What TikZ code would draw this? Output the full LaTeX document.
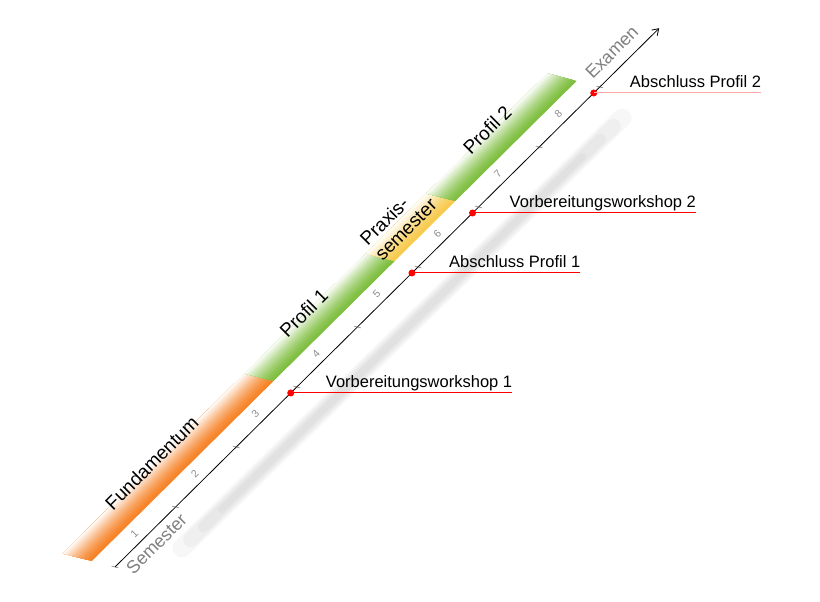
\documentclass[tikz,border=0pt]{standalone}
\usepackage{fontspec}
\setmainfont{Liberation Sans}
\usetikzlibrary{arrows.meta,positioning}
\usepackage{xcolor}
\definecolor{fundorange}{RGB}{246,130,38}
\definecolor{profilgreen}{RGB}{126,190,62}
\definecolor{praxisyellow}{RGB}{247,202,76}

\begin{document}
\begin{tikzpicture}[x=1pt,y=1pt,
  bandtext/.style={font=\fontsize{19}{21}\selectfont,rotate=45,align=left,inner sep=1pt},
  semnum/.style={font=\fontsize{10.5}{11}\selectfont,text=black!45,rotate=45,inner sep=0pt},
  axislabel/.style={font=\fontsize{18}{20}\selectfont,text=black!50,rotate=45,inner sep=0pt},
  axisline/.style={draw=black,line width=0.8pt,-{Straight Barb[length=6pt,width=8pt]}},
  semtick/.style={draw=black!55,line width=0.5pt},
  milestone/.style={circle,fill=red,inner sep=0pt,minimum size=7pt},
  msname/.style={font=\fontsize{16.5}{18}\selectfont,inner sep=0pt,anchor=base west},
  msline/.style={draw=red,line width=1pt}
]
  \useasboundingbox (0,0) rectangle (820,602);

  %% ---- soft shadow beside the time line ----
  \coordinate (shadowa) at (182,54);
  \coordinate (shadowb) at (622,484);
  \foreach \w/\o in {19/0,15/12,11/30,7/55}
    \draw[line cap=round,line width=\w pt,black,opacity=.03,
          shorten <=\o pt,shorten >=\o pt] (shadowa) -- (shadowb);

  %% ---- time line, one semester = one unit along x ----
  \begin{scope}[shift={(115,35)},x={(60.6pt,60pt)},y={(-29pt,7.5pt)}]
    % phases: fade from full colour (next to the line) to white
    \foreach \from/\to/\col in {0/3/fundorange,3/5/profilgreen,
                                5/6/praxisyellow,6/8/profilgreen}
      \foreach \i in {0,...,24}{
        \pgfmathsetmacro\bandt{0.8+0.04*\i}
        \pgfmathtruncatemacro\bandp{100-100*(\i/25)^1.4}
        \fill[\col!\bandp!white] (\from,\bandt) -- (\to,\bandt) -- (\to,1.8) -- (\from,1.8) -- cycle;
      }

    \coordinate (start) at (0,0);
    \coordinate (end) at (8.98,0);
    \draw[axisline] (start) -- (end);
    \foreach \s in {0,...,8}
      \draw[semtick] (\s,-0.12) -- (\s,0.12);
    \foreach \s in {1,...,8}
      \node[semnum] (num\s) at (\s-0.5,0.38) {\s};

    \node[axislabel] (semester) at (0.45,-0.49) {Semester};
    \node[axislabel] (examen) at (8.5,0.63) {Examen};

    % phase names
    \node[bandtext] (fundamentum) at (1.5,1.87) {Fundamentum};
    \node[bandtext] (profil1) at (4,1.85) {Profil 1};
    \node[bandtext] (praxis) at (5.53,1.79) {Praxis-\\semester};
    \node[bandtext] (profil2) at (7.05,1.9) {Profil 2};

    % milestones
    \node[milestone] (vw1) at (2.9,0) {};
    \node[milestone] (ap1) at (4.9,0) {};
    \node[milestone] (vw2) at (5.9,0) {};
    \node[milestone] (ap2) at (7.9,0) {};
  \end{scope}

  %% ---- milestone names ----
  \node[msname] (vw1name) at ([shift={(35pt,5pt)}]vw1) {Vorbereitungsworkshop 1};
  \node[msname] (ap1name) at ([shift={(37pt,5pt)}]ap1) {Abschluss Profil 1};
  \node[msname] (vw2name) at ([shift={(37pt,5pt)}]vw2) {Vorbereitungsworkshop 2};
  \node[msname] (ap2name) at ([shift={(36pt,5pt)}]ap2) {Abschluss Profil 2};

  \draw[msline] (vw1.center) -- (vw1 -| vw1name.east);
  \draw[msline] (ap1.center) -- (ap1 -| ap1name.east);
  \draw[msline] (vw2.center) -- (vw2 -| vw2name.east);
  \draw[msline,draw=red!35] (ap2.center) -- (ap2 -| ap2name.east);
\end{tikzpicture}
\end{document}
